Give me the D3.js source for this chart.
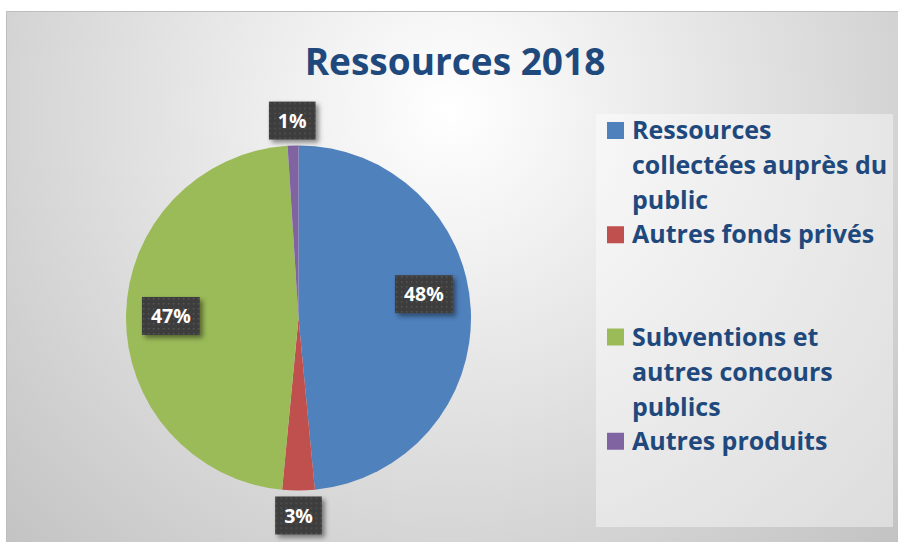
<!DOCTYPE html>
<html>
<head>
<meta charset="utf-8">
<script src="https://cdn.jsdelivr.net/npm/d3@7"></script>
<style>
  html, body { margin: 0; padding: 0; background: #ffffff; }
  svg { display: block; }
</style>
</head>
<body>
<svg id="chart" width="898" height="542"></svg>
<script>
// Resources breakdown, 2018 (percent of total)
const categories = [
  "Ressources collectées auprès du public",
  "Autres fonds privés",
  "Subventions et autres concours publics",
  "Autres produits"
];
const shares = [48, 3, 47, 1];
const sliceColors = ["#4f81bd", "#c0504d", "#9bbb59", "#8064a2"];
const chartTitle = "Ressources 2018";

const W = 898, H = 542;
const FONT = "'Open Sans', Lato, sans-serif";
const svg = d3.select("#chart");
const defs = svg.append("defs");

// soft radial background
const bg = defs.append("radialGradient")
  .attr("id", "bgGrad")
  .attr("gradientUnits", "userSpaceOnUse")
  .attr("cx", 450).attr("cy", 110).attr("r", 620);
bg.append("stop").attr("offset", 0).attr("stop-color", "#ffffff");
bg.append("stop").attr("offset", 0.55).attr("stop-color", "#dedede");
bg.append("stop").attr("offset", 1).attr("stop-color", "#c3c3c3");

// dotted dark fill for the value boxes
const pat = defs.append("pattern")
  .attr("id", "dots")
  .attr("patternUnits", "userSpaceOnUse")
  .attr("width", 5).attr("height", 5);
pat.append("rect").attr("width", 5).attr("height", 5).attr("fill", "#3d3d3d");
pat.append("rect").attr("x", 2).attr("y", 2).attr("width", 1.5).attr("height", 1.5).attr("fill", "#575757");

const shadow = defs.append("filter").attr("id", "boxShadow")
  .attr("x", "-30%").attr("y", "-30%").attr("width", "170%").attr("height", "170%");
shadow.append("feDropShadow")
  .attr("dx", 3).attr("dy", 3).attr("stdDeviation", 2.5)
  .attr("flood-color", "#000").attr("flood-opacity", 0.45);

// chart area
svg.append("rect").attr("width", W).attr("height", H).attr("fill", "#ffffff");
svg.append("rect")
  .attr("x", 6).attr("y", 11).attr("width", W - 6).attr("height", H - 11)
  .attr("fill", "url(#bgGrad)");
svg.append("path")
  .attr("d", `M6.5,${H} V11.5 H${W}`)
  .attr("fill", "none").attr("stroke", "#bdbdbd").attr("stroke-width", 1);

// title
svg.append("text")
  .attr("x", 455).attr("y", 75)
  .attr("text-anchor", "middle")
  .attr("font-family", FONT)
  .attr("font-weight", 700)
  .attr("font-size", 37)
  .attr("fill", "#1f497d")
  .text(chartTitle);

// pie
const cx = 298.5, cy = 318, R = 172.5;
const pie = d3.pie().sort(null).value(d => d);
const arcs = pie(shares);
const arc = d3.arc().innerRadius(0).outerRadius(R);

const g = svg.append("g").attr("transform", `translate(${cx},${cy})`);
g.selectAll("path.slice")
  .data(arcs)
  .join("path")
  .attr("class", "slice")
  .attr("d", arc)
  .attr("fill", (d, i) => sliceColors[i]);

// value labels: large slices inside, small slices just outside the rim
const labels = g.selectAll("g.lbl")
  .data(arcs)
  .join("g")
  .attr("class", "lbl")
  .attr("transform", d => {
    const share = d.data / d3.sum(shares);
    let a = (d.startAngle + d.endAngle) / 2;
    let r;
    if (share < 0.05) {
      r = R + 25;
    } else {
      r = R * 0.74;
      if (a < Math.PI) a -= 0.14; // lift the right-hand label a little
    }
    return `translate(${Math.sin(a) * r},${-Math.cos(a) * r})`;
  });

labels.each(function(d) {
  const sel = d3.select(this);
  const txt = sel.append("text")
    .attr("text-anchor", "middle")
    .attr("dy", "0.36em")
    .attr("font-family", FONT)
    .attr("font-weight", 700)
    .attr("font-size", 19.5)
    .attr("fill", "#ffffff")
    .text(d.data + "%");
  const tw = txt.node().getComputedTextLength();
  const bw = tw + 18, bh = 38;
  sel.insert("rect", "text")
    .attr("x", -bw / 2).attr("y", -bh / 2)
    .attr("width", bw).attr("height", bh)
    .attr("fill", "url(#dots)")
    .attr("filter", "url(#boxShadow)");
});

// legend
const lgX = 596, lgY = 114, lgW = 297, lgH = 413;
svg.append("rect")
  .attr("x", lgX).attr("y", lgY).attr("width", lgW).attr("height", lgH)
  .attr("fill", "#ffffff").attr("fill-opacity", 0.42);

const slotH = lgH / categories.length;
const lineH = 35;
const maxTextW = 262;
const legendFontSize = 25;

const legend = svg.append("g");
categories.forEach((name, i) => {
  const top = lgY + i * slotH;
  const base = top + 25 + (i % 2);
  legend.append("rect")
    .attr("x", 607).attr("y", base - 17)
    .attr("width", 17).attr("height", 17)
    .attr("fill", sliceColors[i]);

  const t = legend.append("text")
    .attr("font-family", FONT)
    .attr("font-weight", 700)
    .attr("font-size", legendFontSize)
    .attr("fill", "#1f497d");

  // word wrap to the legend width
  const words = name.split(" ");
  let line = [];
  let lineNo = 0;
  let tspan = t.append("tspan").attr("x", 632).attr("y", base);
  words.forEach(w => {
    line.push(w);
    tspan.text(line.join(" "));
    if (tspan.node().getComputedTextLength() > maxTextW && line.length > 1) {
      line.pop();
      tspan.text(line.join(" "));
      line = [w];
      lineNo++;
      tspan = t.append("tspan").attr("x", 632).attr("y", base + lineNo * lineH).text(w);
    }
  });
});
</script>
</body>
</html>
